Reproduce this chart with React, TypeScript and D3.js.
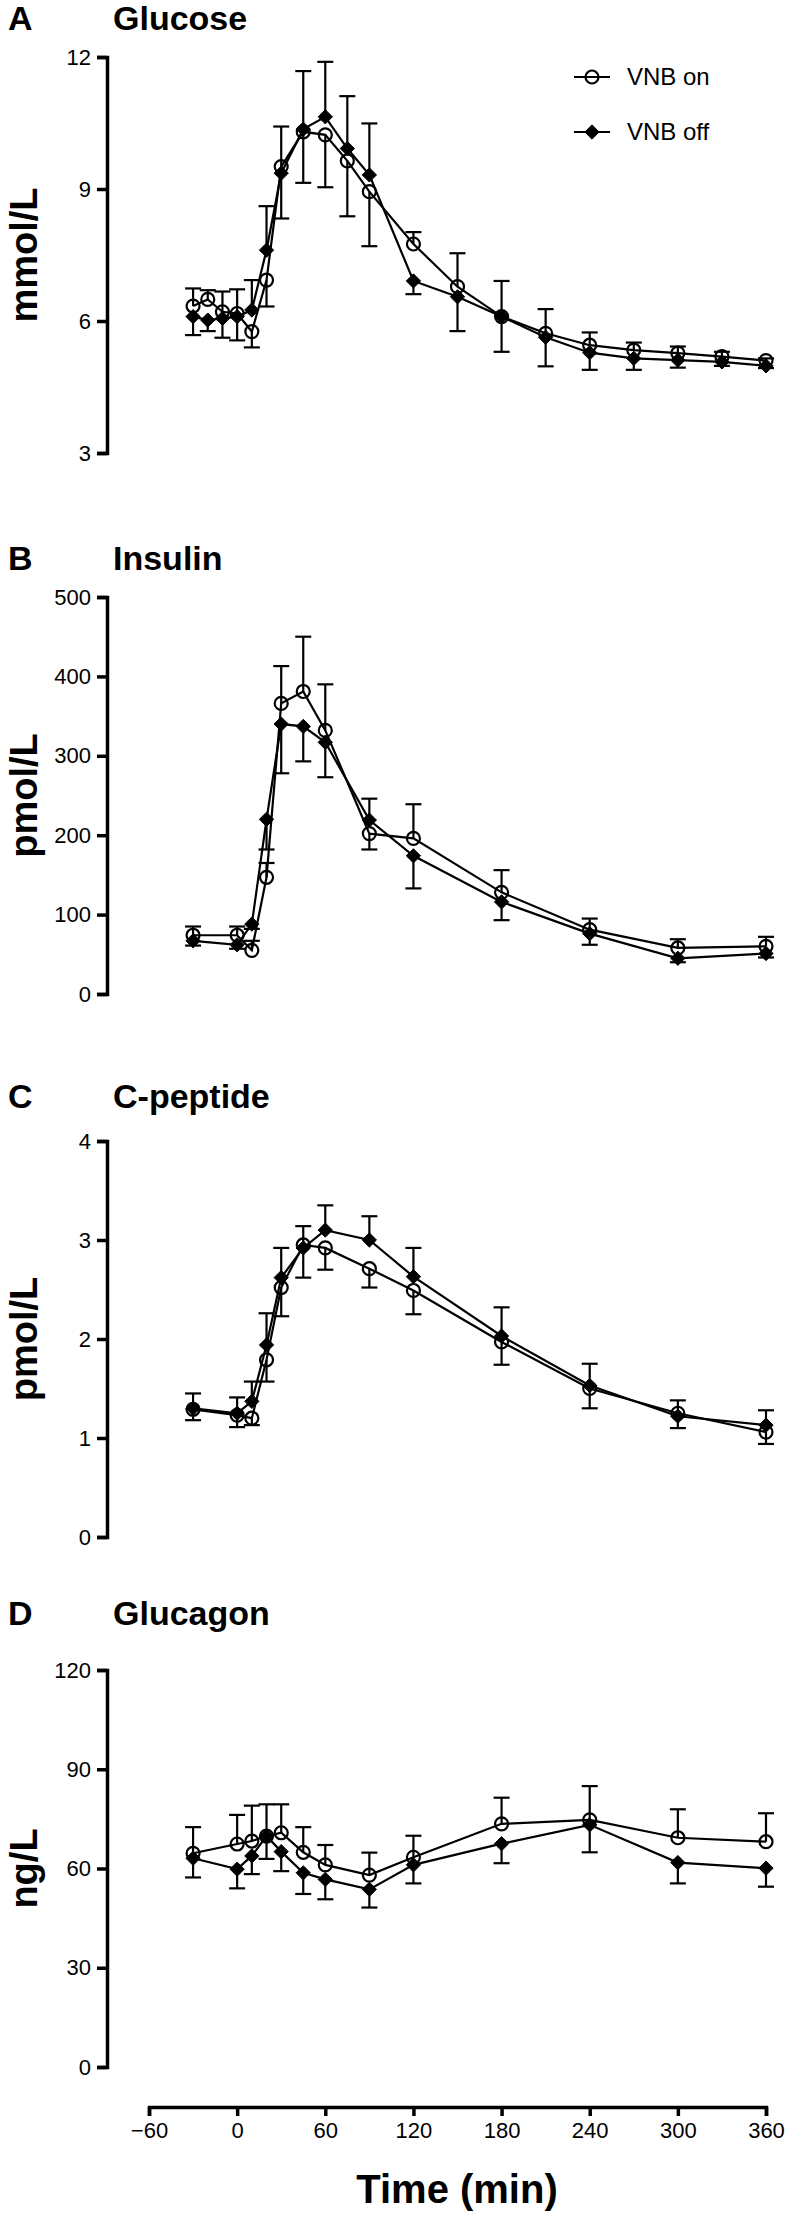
import * as d3 from "d3";
import { useRef, useEffect } from "react";

const FONT = "'Liberation Sans', Arial, Helvetica, sans-serif";
const width = 785;
const height = 2213;

// time axis shared by all panels
const timeTicks = [-60, 0, 60, 120, 180, 240, 300, 360];

// A: glucose (mmol/L)
const glucoseTime = [-30, -20, -10, 0, 10, 20, 30, 45, 60, 75, 90, 120, 150, 180, 210, 240, 270, 300, 330, 360];
const glucoseOn = [6.34, 6.49, 6.21, 6.17, 5.76, 6.93, 9.51, 10.3, 10.23, 9.64, 8.94, 7.75, 6.78, 6.1, 5.72, 5.45, 5.34, 5.27, 5.19, 5.1];
const glucoseOff = [6.1, 6.02, 6.06, 6.1, 6.25, 7.61, 9.36, 10.36, 10.64, 9.92, 9.32, 6.91, 6.55, 6.1, 5.63, 5.28, 5.15, 5.11, 5.07, 4.98];
// signed SEM: + drawn upward, - drawn downward
const glucoseOnErr = [0.4, 0.21, 0.46, 0.55, -0.36, -0.6, 0.91, -1.16, -1.19, -1.26, -1.24, 0.27, 0.76, 0.81, 0.55, 0.29, 0.17, 0.15, 0.11, 0.05];
const glucoseOffErr = [-0.42, -0.25, -0.44, -0.54, 0.68, 1.0, -1.03, 1.32, 1.25, 1.19, 1.17, -0.3, -0.78, -0.8, -0.66, -0.39, -0.26, -0.17, -0.09, -0.05];
const glucoseTicks = [3, 6, 9, 12];

// B: insulin (pmol/L)
const insulinTime = [-30, 0, 10, 20, 30, 45, 60, 90, 120, 180, 240, 300, 360];
const insulinOn = [74, 74, 55, 147, 366, 381, 332, 202, 196, 128, 81, 58, 60];
const insulinOff = [67, 62, 88, 220, 340, 337, 317, 219, 174, 116, 76, 45, 51];
const insulinOnErr = [11, 11, 12, 18, 47, 69, 58, -20, 43, 28, 14, 11, 12];
const insulinOffErr = [-6, -5, -6, -38, -62, -44, -44, 27, -41, -23, -14, -5, -5];
const insulinTicks = [0, 100, 200, 300, 400, 500];

// C: C-peptide (pmol/L)
const cpepTime = [-30, 0, 10, 20, 30, 45, 60, 90, 120, 180, 240, 300, 360];
const cpepOn = [1.29, 1.23, 1.2, 1.79, 2.52, 2.95, 2.92, 2.71, 2.49, 1.97, 1.5, 1.25, 1.06];
const cpepOff = [1.3, 1.25, 1.37, 1.94, 2.62, 2.92, 3.1, 3.0, 2.63, 2.03, 1.53, 1.22, 1.13];
const cpepOnErr = [0.16, -0.12, -0.07, -0.22, -0.29, 0.19, -0.22, -0.19, -0.24, -0.23, -0.2, 0.13, -0.12];
const cpepOffErr = [-0.12, 0.16, 0.2, 0.32, 0.3, -0.3, 0.25, 0.24, 0.29, 0.29, 0.22, -0.12, 0.15];
const cpepTicks = [0, 1, 2, 3, 4];

// D: glucagon (ng/L)
const glucagonTime = [-30, 0, 10, 20, 30, 45, 60, 90, 120, 180, 240, 300, 360];
const glucagonOn = [64.6, 67.4, 68.3, 69.8, 70.8, 64.9, 61.1, 58.0, 63.4, 73.5, 74.7, 69.3, 68.1];
const glucagonOff = [63.1, 59.8, 63.8, 69.8, 65.1, 58.7, 56.7, 53.7, 61.1, 67.5, 73.2, 61.8, 60.1];
const glucagonOnErr = [7.9, 8.8, 10.7, 9.6, 8.6, 7.6, 6.0, 6.8, 6.5, 7.9, 10.2, 8.6, 8.6];
const glucagonOffErr = [-5.8, -5.8, -5.5, -6.9, -5.9, -6.4, -6.0, -5.5, -5.6, -5.9, -8.3, -6.3, -5.6];
const glucagonTicks = [0, 30, 60, 90, 120];

const seriesNames = ["VNB on", "VNB off"];

const x = d3.scaleLinear([-60, 360], [149, 766]);
const axisX = 107;

const diamond = d3.symbol(d3.symbolDiamond2 ?? d3.symbolDiamond, 130)()!;

type PanelProps = {
  letter: string;
  title: string;
  unit: string;
  time: number[];
  on: number[];
  off: number[];
  onErr: number[];
  offErr: number[];
  ticks: number[];
  top: number;
  bottom: number;
  titleY: number;
  legend?: boolean;
};

function Panel({ letter, title, unit, time, on, off, onErr, offErr, ticks, top, bottom, titleY, legend }: PanelProps) {
  const gy = useRef<SVGGElement>(null);
  const y = d3.scaleLinear([ticks[0], ticks[ticks.length - 1]], [bottom, top]);

  useEffect(() => {
    const g = d3.select(gy.current!);
    g.call(
      d3
        .axisLeft(y)
        .tickValues(ticks)
        .tickSize(10)
        .tickSizeOuter(10)
        .tickPadding(6)
        .tickFormat(d3.format("d"))
    );
    g.select(".domain").attr("stroke-width", 3.5).attr("stroke", "#000");
    g.selectAll(".tick line").attr("stroke-width", 3.5).attr("stroke", "#000");
    g.selectAll(".tick text").attr("font-size", 22).attr("font-family", FONT).attr("fill", "#000");
  }, [ticks, top, bottom]);

  const line = d3.line<number>((d, i) => x(time[i]), (d) => y(d));

  const errBars = (vals: number[], errs: number[]) =>
    vals.map((v, i) => {
      const cx = x(time[i]);
      const y0 = y(v);
      const y1 = y(v + errs[i]);
      return (
        <g key={i}>
          <line x1={cx} x2={cx} y1={y0} y2={y1} />
          <line x1={cx - 8} x2={cx + 8} y1={y1} y2={y1} />
        </g>
      );
    });

  return (
    <g>
      <text x={8} y={titleY} fontSize={34} fontWeight="bold" fontFamily={FONT}>
        {letter}
      </text>
      <text x={113} y={titleY} fontSize={34} fontWeight="bold" fontFamily={FONT}>
        {title}
      </text>
      <text
        transform={`translate(37,${(top + bottom) / 2}) rotate(-90)`}
        textAnchor="middle"
        fontSize={38}
        fontWeight="bold"
        fontFamily={FONT}
      >
        {unit}
      </text>
      <g ref={gy} transform={`translate(${axisX},0)`} />

      <g stroke="#000" strokeWidth={2.2} fill="none">
        {errBars(on, onErr)}
        {errBars(off, offErr)}
        <path d={line(on)!} />
        <path d={line(off)!} />
      </g>
      <g stroke="#000" strokeWidth={2.2} fill="none">
        {on.map((v, i) => (
          <circle key={i} cx={x(time[i])} cy={y(v)} r={6.5} />
        ))}
      </g>
      <g fill="#000" stroke="#000" strokeWidth={1}>
        {off.map((v, i) => (
          <path key={i} d={diamond} transform={`translate(${x(time[i])},${y(v)})`} />
        ))}
      </g>

      {legend && (
        <g fontFamily={FONT} fontSize={24}>
          <line x1={574} x2={610} y1={77} y2={77} stroke="#000" strokeWidth={2.2} />
          <circle cx={592} cy={77} r={6.5} fill="none" stroke="#000" strokeWidth={2.2} />
          <text x={627} y={85}>{seriesNames[0]}</text>
          <line x1={574} x2={610} y1={132} y2={132} stroke="#000" strokeWidth={2.2} />
          <path d={diamond} transform="translate(592,132)" fill="#000" stroke="#000" />
          <text x={627} y={140}>{seriesNames[1]}</text>
        </g>
      )}
    </g>
  );
}

export default function App() {
  const gx = useRef<SVGGElement>(null);

  useEffect(() => {
    const g = d3.select(gx.current!);
    g.call(
      d3
        .axisBottom(x)
        .tickValues(timeTicks)
        .tickSize(9)
        .tickSizeOuter(9)
        .tickPadding(6)
        .tickFormat(d3.format("d"))
    );
    g.select(".domain").attr("stroke-width", 3.5).attr("stroke", "#000");
    g.selectAll(".tick line").attr("stroke-width", 3.5).attr("stroke", "#000");
    g.selectAll(".tick text").attr("font-size", 22).attr("font-family", FONT).attr("fill", "#000");
  }, []);

  return (
    <svg
      width={width}
      height={height}
      style={{ position: "absolute", left: 0, top: 0, background: "#fff" }}
    >
      <Panel
        letter="A"
        title="Glucose"
        unit="mmol/L"
        time={glucoseTime}
        on={glucoseOn}
        off={glucoseOff}
        onErr={glucoseOnErr}
        offErr={glucoseOffErr}
        ticks={glucoseTicks}
        top={57}
        bottom={453}
        titleY={30}
        legend
      />
      <Panel
        letter="B"
        title="Insulin"
        unit="pmol/L"
        time={insulinTime}
        on={insulinOn}
        off={insulinOff}
        onErr={insulinOnErr}
        offErr={insulinOffErr}
        ticks={insulinTicks}
        top={597}
        bottom={994}
        titleY={570}
      />
      <Panel
        letter="C"
        title="C-peptide"
        unit="pmol/L"
        time={cpepTime}
        on={cpepOn}
        off={cpepOff}
        onErr={cpepOnErr}
        offErr={cpepOffErr}
        ticks={cpepTicks}
        top={1141}
        bottom={1537}
        titleY={1108}
      />
      <Panel
        letter="D"
        title="Glucagon"
        unit="ng/L"
        time={glucagonTime}
        on={glucagonOn}
        off={glucagonOff}
        onErr={glucagonOnErr}
        offErr={glucagonOffErr}
        ticks={glucagonTicks}
        top={1670}
        bottom={2067}
        titleY={1625}
      />
      <g ref={gx} transform="translate(0,2107)" />
      <text x={457} y={2203} textAnchor="middle" fontSize={40} fontWeight="bold" fontFamily={FONT}>
        Time (min)
      </text>
    </svg>
  );
}
